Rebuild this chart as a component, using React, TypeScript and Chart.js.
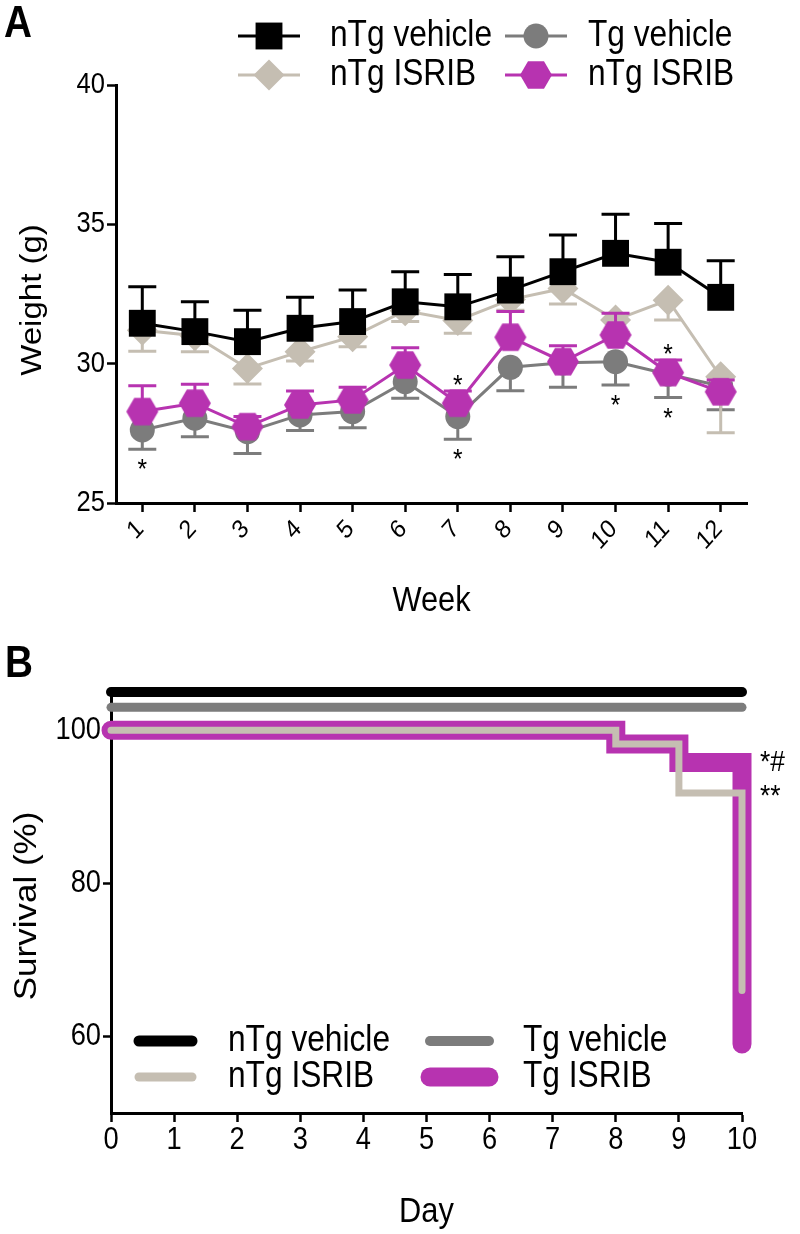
import React, { useEffect, useRef } from 'react';
import { Chart, registerables } from 'chart.js';

Chart.register(...registerables);

const FONT = "'Liberation Sans', Arial, Helvetica, sans-serif";
const SX = 0.88; // horizontal squeeze of all lettering, as in the source figure
const BLACK = '#000000';
const GRAY = '#7c7c7c';
const BEIGE = '#c5beb2';
const MAGENTA = '#b733b0';

// ---------- Panel A: body weight ----------
const weeks = [1, 2, 3, 4, 5, 6, 7, 8, 9, 10, 11, 12];
const nTgVehicleWeight = [31.45, 31.15, 30.79, 31.27, 31.51, 32.22, 32.04, 32.64, 33.3, 33.96, 33.64, 32.38];
const nTgVehicleSem = [1.31, 1.07, 1.13, 1.11, 1.13, 1.08, 1.16, 1.2, 1.32, 1.4, 1.39, 1.31];
const tgVehicleWeight = [27.62, 28.04, 27.56, 28.16, 28.28, 29.35, 28.1, 29.87, 30.03, 30.07, 29.62, 29.2];
const tgVehicleSem = [0.69, 0.66, 0.78, 0.56, 0.58, 0.59, 0.81, 0.84, 0.88, 0.84, 0.83, 0.85];
const nTgIsribWeight = [31.2, 31.0, 29.83, 30.43, 30.97, 31.9, 31.55, 32.3, 32.7, 31.57, 32.28, 29.53];
const nTgIsribSem = [0.75, 0.57, 0.56, 0.33, 0.36, 0.39, 0.46, 0.38, 0.56, 0.45, 0.71, 2.01];
const tgIsribWeight = [28.28, 28.58, 27.74, 28.52, 28.7, 29.95, 28.58, 30.95, 30.07, 31.03, 29.68, 28.99];
const tgIsribSem = [0.93, 0.68, 0.36, 0.5, 0.45, 0.62, 0.44, 0.92, 0.57, 0.78, 0.45, 0.42];
const weightTicks = [25, 30, 35, 40];
const starBelowWeeks = [1, 7, 10, 11];
const starAboveWeeks = [7, 11];
const legendLabelsA = ['nTg vehicle', 'Tg vehicle', 'nTg ISRIB', 'nTg ISRIB'];

// ---------- Panel B: survival ----------
const days = [0, 8, 9, 10];
const dayTicks = [0, 1, 2, 3, 4, 5, 6, 7, 8, 9, 10];
const survivalNTgVehicle = [100, 100, 100, 100];
const survivalTgVehicle = [100, 100, 100, 100];
const survivalNTgIsrib = [100, 98.2, 91.8, 66];
const survivalTgIsrib = [100, 98.2, 95.8, 59];
const survivalTicks = [60, 80, 100];
const legendLabelsB = ['nTg vehicle', 'Tg vehicle', 'nTg ISRIB', 'Tg ISRIB'];
const sigNTgIsrib = '**';
const sigTgIsrib = '*#';

type TextOpts = { size: number; bold?: boolean; align?: CanvasTextAlign; baseline?: CanvasTextBaseline; rot?: number };

function drawText(ctx: CanvasRenderingContext2D, s: string, x: number, y: number, o: TextOpts) {
  ctx.save();
  ctx.translate(x, y);
  ctx.scale(SX, 1);
  if (o.rot) ctx.rotate(o.rot);
  ctx.font = `${o.bold ? 'bold ' : ''}${o.size}px ${FONT}`;
  ctx.fillStyle = '#000';
  ctx.textAlign = o.align ?? 'left';
  ctx.textBaseline = o.baseline ?? 'middle';
  ctx.fillText(s, 0, 0);
  ctx.restore();
}

function drawStar(ctx: CanvasRenderingContext2D, x: number, yCenter: number, size: number) {
  drawText(ctx, '*', x, yCenter + 0.58 * size, { size, align: 'center', baseline: 'alphabetic' });
}

function makeHexagon(r: number, color: string): HTMLCanvasElement {
  const w = Math.ceil(2 * r) + 2;
  const h = Math.ceil(Math.sqrt(3) * r) + 2;
  const c = document.createElement('canvas');
  c.width = w;
  c.height = h;
  const ctx = c.getContext('2d')!;
  ctx.fillStyle = color;
  ctx.beginPath();
  for (let i = 0; i < 6; i++) {
    const a = (Math.PI / 3) * i;
    const x = w / 2 + r * Math.cos(a);
    const y = h / 2 + r * Math.sin(a);
    if (i === 0) ctx.moveTo(x, y);
    else ctx.lineTo(x, y);
  }
  ctx.closePath();
  ctx.fill();
  return c;
}

function drawMarker(ctx: CanvasRenderingContext2D, style: any, x: number, y: number, r: number, color: string) {
  ctx.save();
  ctx.fillStyle = color;
  ctx.beginPath();
  if (style === 'rect') {
    const s = r * Math.SQRT1_2;
    ctx.rect(x - s, y - s, 2 * s, 2 * s);
    ctx.fill();
  } else if (style === 'rectRot') {
    ctx.moveTo(x - r, y);
    ctx.lineTo(x, y - r);
    ctx.lineTo(x + r, y);
    ctx.lineTo(x, y + r);
    ctx.closePath();
    ctx.fill();
  } else if (style === 'circle') {
    ctx.arc(x, y, r, 0, Math.PI * 2);
    ctx.fill();
  } else if (style instanceof HTMLCanvasElement) {
    ctx.drawImage(style, x - style.width / 2, y - style.height / 2);
  }
  ctx.restore();
}

const errorBarPlugin = {
  id: 'errorBars',
  beforeDatasetDraw(chart: any, args: any) {
    const ds: any = chart.data.datasets[args.index];
    if (!ds.errors) return;
    const ctx = chart.ctx;
    const ys = chart.scales.y;
    ctx.save();
    ctx.strokeStyle = ds.borderColor;
    ctx.lineWidth = 3;
    args.meta.data.forEach((pt: any, i: number) => {
      const v = ds.data[i].y;
      const e = ds.errors[i];
      const end = ys.getPixelForValue(ds.errorDir === 'up' ? v + e : v - e);
      ctx.beginPath();
      ctx.moveTo(pt.x, pt.y);
      ctx.lineTo(pt.x, end);
      ctx.moveTo(pt.x - 14, end);
      ctx.lineTo(pt.x + 14, end);
      ctx.stroke();
    });
    ctx.restore();
  },
};

const decorA = {
  id: 'decorA',
  afterDraw(chart: any) {
    const ctx = chart.ctx;
    const xs = chart.scales.x;
    const ys = chart.scales.y;
    const area = chart.chartArea;
    // tick labels
    ys.ticks.forEach((t: any) => {
      drawText(ctx, String(t.value), area.left - 11, ys.getPixelForValue(t.value), { size: 29, align: 'right' });
    });
    xs.ticks.forEach((t: any) => {
      drawText(ctx, String(t.value), xs.getPixelForValue(t.value) - 2, area.bottom + 22, {
        size: 26,
        align: 'right',
        rot: -Math.PI / 4,
      });
    });
    // axis titles
    drawText(ctx, 'Week', (area.left + area.right) / 2, 601, { size: 35, align: 'center' });
    drawText(ctx, 'Weight (g)', 41, 300, { size: 33, align: 'center', baseline: 'alphabetic', rot: -Math.PI / 2 });
    // significance stars
    starBelowWeeks.forEach((w) => {
      const i = weeks.indexOf(w);
      drawStar(ctx, xs.getPixelForValue(w), ys.getPixelForValue(tgVehicleWeight[i] - tgVehicleSem[i]) + 13, 28);
    });
    starAboveWeeks.forEach((w) => {
      const i = weeks.indexOf(w);
      drawStar(ctx, xs.getPixelForValue(w), ys.getPixelForValue(tgIsribWeight[i] + tgIsribSem[i]) - 13, 28);
    });
    // legend
    const colX = [238, 505];
    const textX = [330, 588];
    const rowY = [36, 75];
    chart.data.datasets.forEach((ds: any, i: number) => {
      const r = Math.floor(i / 2);
      const c = i % 2;
      const y = rowY[r];
      ctx.save();
      ctx.strokeStyle = ds.borderColor;
      ctx.lineWidth = 3;
      ctx.beginPath();
      ctx.moveTo(colX[c], y);
      ctx.lineTo(colX[c] + 62, y);
      ctx.stroke();
      ctx.restore();
      drawMarker(ctx, ds.pointStyle, colX[c] + 31, y, ds.pointRadius, ds.borderColor);
      drawText(ctx, legendLabelsA[i], textX[c], y, { size: 36 });
    });
    drawText(ctx, 'A', 4, 37, { size: 44, bold: true, baseline: 'alphabetic' });
  },
};

const shiftPlugin = {
  id: 'shift',
  beforeDatasetDraw(chart: any, args: any) {
    const ds: any = chart.data.datasets[args.index];
    if (!ds.displayShift) return;
    const ys = chart.scales.y;
    const dy = ys.getPixelForValue(100 + ds.displayShift) - ys.getPixelForValue(100);
    chart.ctx.save();
    chart.ctx.translate(0, dy);
  },
  afterDatasetDraw(chart: any, args: any) {
    const ds: any = chart.data.datasets[args.index];
    if (!ds.displayShift) return;
    chart.ctx.restore();
  },
};

const decorB = {
  id: 'decorB',
  afterDraw(chart: any) {
    const ctx = chart.ctx;
    const xs = chart.scales.x;
    const ys = chart.scales.y;
    const area = chart.chartArea;
    // tick labels
    ys.ticks.forEach((t: any) => {
      drawText(ctx, String(t.value), area.left - 10, ys.getPixelForValue(t.value), { size: 31, align: 'right' });
    });
    xs.ticks.forEach((t: any) => {
      drawText(ctx, String(t.value), xs.getPixelForValue(t.value), area.bottom + 27, { size: 31, align: 'center' });
    });
    // axis titles
    drawText(ctx, 'Day', (area.left + area.right) / 2, 572, { size: 35, align: 'center' });
    drawText(ctx, 'Survival (%)', 36, 266, { size: 35, align: 'center', baseline: 'alphabetic', rot: -Math.PI / 2 });
    // significance labels
    drawText(ctx, sigTgIsrib, area.right + 18, ys.getPixelForValue(survivalTgIsrib[2]), { size: 30 });
    drawText(ctx, sigNTgIsrib, area.right + 18, ys.getPixelForValue(survivalNTgIsrib[2]) + 4, { size: 30 });
    // legend
    const seg = [[139, 192], [430, 489]];
    const textX = [228, 523];
    const rowY = [401, 437];
    const widths = [11, 10, 9, 19];
    chart.data.datasets.forEach((ds: any, i: number) => {
      const r = Math.floor(i / 2);
      const c = i % 2;
      const y = rowY[r];
      ctx.save();
      ctx.strokeStyle = ds.borderColor;
      ctx.lineWidth = widths[i];
      ctx.lineCap = 'round';
      ctx.beginPath();
      ctx.moveTo(seg[c][0], y);
      ctx.lineTo(seg[c][1], y);
      ctx.stroke();
      ctx.restore();
      drawText(ctx, legendLabelsB[i], textX[c], y, { size: 36 });
    });
    drawText(ctx, 'B', 5, 37, { size: 44, bold: true, baseline: 'alphabetic' });
  },
};

const axisGrid = (len: number) => ({
  drawOnChartArea: false,
  drawTicks: true,
  tickLength: len,
  tickWidth: 2.5,
  tickColor: '#000',
  color: '#000',
});
const axisBorder = { display: true, color: '#000', width: 3 };

function WeightChart() {
  const ref = useRef<HTMLCanvasElement>(null);
  useEffect(() => {
    const hex = makeHexagon(16, MAGENTA);
    const mk = (label: string, vals: number[], sem: number[], color: string, style: any, radius: number, dir: string, order: number) => ({
      label,
      data: weeks.map((w, i) => ({ x: w, y: vals[i] })),
      errors: sem,
      errorDir: dir,
      borderColor: color,
      backgroundColor: color,
      borderWidth: 3,
      pointStyle: style,
      pointRadius: radius,
      pointHoverRadius: radius,
      pointBackgroundColor: color,
      pointBorderColor: color,
      pointBorderWidth: 0,
      tension: 0,
      order,
      clip: false,
    });
    const chart = new Chart(ref.current!, {
      type: 'line',
      data: {
        datasets: [
          mk(legendLabelsA[0], nTgVehicleWeight, nTgVehicleSem, BLACK, 'rect', 19, 'up', 0),
          mk(legendLabelsA[1], tgVehicleWeight, tgVehicleSem, GRAY, 'circle', 12.5, 'down', 3),
          mk(legendLabelsA[2], nTgIsribWeight, nTgIsribSem, BEIGE, 'rectRot', 15.5, 'down', 2),
          mk(legendLabelsA[3], tgIsribWeight, tgIsribSem, MAGENTA, hex, 16, 'up', 1),
        ] as any,
      },
      options: {
        responsive: false,
        animation: false,
        devicePixelRatio: 1,
        events: [],
        layout: { padding: { top: 85, right: 53, left: 0, bottom: 0 } },
        plugins: { legend: { display: false }, tooltip: { enabled: false } },
        scales: {
          x: {
            type: 'linear',
            min: 0.5,
            max: 12.5,
            afterBuildTicks: (s: any) => {
              s.ticks = weeks.map((v) => ({ value: v }));
            },
            afterFit: (s: any) => {
              s.height = 137;
            },
            grid: axisGrid(9),
            border: axisBorder,
            ticks: { display: false, autoSkip: false },
            title: { display: false },
          },
          y: {
            type: 'linear',
            min: 25,
            max: 40,
            afterBuildTicks: (s: any) => {
              s.ticks = weightTicks.map((v) => ({ value: v }));
            },
            afterFit: (s: any) => {
              s.width = 116;
            },
            grid: axisGrid(9),
            border: axisBorder,
            ticks: { display: false },
            title: { display: false },
          },
        },
      } as any,
      plugins: [errorBarPlugin, decorA],
    });
    return () => chart.destroy();
  }, []);
  return <canvas ref={ref} width={800} height={640} style={{ display: 'block', width: 800, height: 640 }} />;
}

function SurvivalChart() {
  const ref = useRef<HTMLCanvasElement>(null);
  useEffect(() => {
    const mk = (label: string, vals: number[], color: string, width: number, order: number, shift: number) => ({
      label,
      data: days.map((d, i) => ({ x: d, y: vals[i] })),
      borderColor: color,
      backgroundColor: color,
      borderWidth: width,
      borderCapStyle: 'round',
      borderJoinStyle: 'miter',
      stepped: true,
      pointRadius: 0,
      pointHoverRadius: 0,
      order,
      clip: false,
      displayShift: shift,
    });
    const chart = new Chart(ref.current!, {
      type: 'line',
      data: {
        datasets: [
          mk(legendLabelsB[0], survivalNTgVehicle, BLACK, 10, 0, 5),
          mk(legendLabelsB[1], survivalTgVehicle, GRAY, 9, 1, 3),
          mk(legendLabelsB[2], survivalNTgIsrib, BEIGE, 7, 2, 0),
          mk(legendLabelsB[3], survivalTgIsrib, MAGENTA, 19, 3, 0),
        ] as any,
      },
      options: {
        responsive: false,
        animation: false,
        devicePixelRatio: 1,
        events: [],
        layout: { padding: { top: 52, right: 58, left: 0, bottom: 0 } },
        plugins: { legend: { display: false }, tooltip: { enabled: false } },
        scales: {
          x: {
            type: 'linear',
            min: 0,
            max: 10,
            afterBuildTicks: (s: any) => {
              s.ticks = dayTicks.map((v) => ({ value: v }));
            },
            afterFit: (s: any) => {
              s.height = 121;
            },
            grid: axisGrid(9),
            border: axisBorder,
            ticks: { display: false, autoSkip: false },
            title: { display: false },
          },
          y: {
            type: 'linear',
            min: 50,
            max: 105,
            afterBuildTicks: (s: any) => {
              s.ticks = survivalTicks.map((v) => ({ value: v }));
            },
            afterFit: (s: any) => {
              s.width = 111;
            },
            grid: axisGrid(8),
            border: axisBorder,
            ticks: { display: false },
            title: { display: false },
          },
        },
      } as any,
      plugins: [shiftPlugin, decorB],
    });
    return () => chart.destroy();
  }, []);
  return <canvas ref={ref} width={800} height={594} style={{ display: 'block', width: 800, height: 594 }} />;
}

export default function App() {
  return (
    <div style={{ position: 'absolute', left: 0, top: 0, width: 800, height: 1234, background: '#fff' }}>
      <WeightChart />
      <SurvivalChart />
    </div>
  );
}
